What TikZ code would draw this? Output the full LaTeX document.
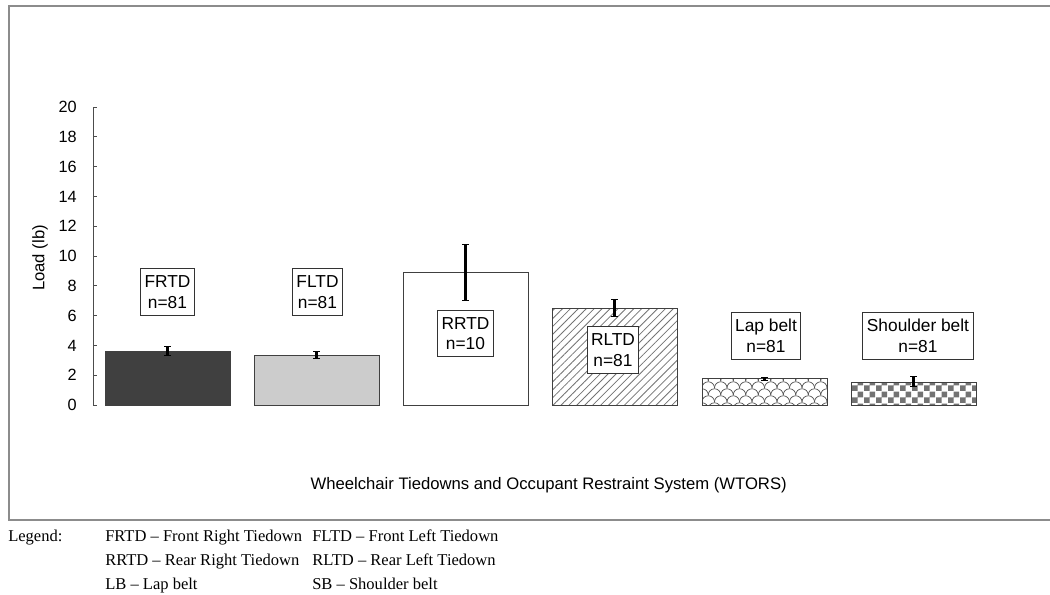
\documentclass[tikz,border=0pt]{standalone}
\usepackage{fontspec}
\setmainfont{Liberation Serif}
\newfontfamily\arialfont{Liberation Sans}
\usetikzlibrary{patterns,patterns.meta,arrows.meta}

\pgfdeclarepatternformonly{checks}{\pgfpointorigin}{\pgfqpoint{9pt}{9pt}}{\pgfqpoint{9pt}{9pt}}{%
  \pgfpathrectangle{\pgfpointorigin}{\pgfqpoint{4.5pt}{4.5pt}}%
  \pgfpathrectangle{\pgfqpoint{4.5pt}{4.5pt}}{\pgfqpoint{4.5pt}{4.5pt}}%
  \pgfusepath{fill}}

\definecolor{darkbar}{HTML}{404040}
\definecolor{lightbar}{HTML}{CCCCCC}
\definecolor{framegray}{HTML}{8C8C8C}

\begin{document}
\begin{tikzpicture}[x=0.75pt,y=-0.75pt,
    bar/.style={draw=black!75,line width=0.75pt},
    errbar/.style={line width=2.2pt,{Bar[width=5pt,line width=1pt]}-{Bar[width=5pt,line width=1pt]}},
    tag/.style={draw=black!80,line width=0.75pt,fill=white,align=center,
      font=\arialfont\fontsize{13}{15.5}\selectfont,inner xsep=3pt,inner ysep=1pt,minimum height=35pt},
    ticklabel/.style={anchor=east,inner sep=0pt,font=\arialfont\fontsize{12.2}{14}\selectfont},
    legend/.style={anchor=base west,inner sep=0pt,font=\fontsize{12.4}{15}\selectfont}]
  \useasboundingbox (0,0) rectangle (1050,594);
  \fill[white] (0,0) rectangle (1050,594);

  % frame
  \draw[framegray,line width=1.5pt] (1060,6) -- (9,6) -- (9,520) -- (1060,520);

  % axis
  \draw[black!70,line width=0.75pt] (93,107) -- (93,405);
  \foreach \v in {0,2,...,20} {
    \draw[black!70,line width=0.75pt] (93,405-14.9*\v) -- ++(4,0);
    \node[ticklabel] at (77,405-14.9*\v) {\v};
  }
  \node[rotate=90,font=\arialfont\fontsize{12.5}{14}\selectfont] (ylab) at (40,258) {Load (lb)};

  % bars
  \draw[bar,fill=darkbar] (105,351) rectangle (230,405);
  \draw[bar,fill=lightbar] (254,355) rectangle (379,405);
  \draw[bar,fill=white] (403,272) rectangle (528,405);
  \draw[bar,preaction={fill=white},pattern={Lines[angle=45,distance=4.2pt,line width=0.6pt]},
    pattern color=black!55] (552,308) rectangle (677,405);
  \begin{scope}
    \clip (702,378) rectangle (827,405);
    \foreach \r in {0,...,4}
      \foreach \k in {0,...,11}
        \draw[black!70,line width=0.5pt] ({702+12.5*\k+6.25*mod(\r,2)-6.25},{381+7*\r})
          arc[start angle=180,end angle=360,radius=6.25];
  \end{scope}
  \draw[bar] (702,378) rectangle (827,405);
  \draw[bar,preaction={fill=white},pattern=checks,pattern color=black!55] (851,382) rectangle (976,405);

  % error bars
  \draw[errbar] (167.5,346) -- (167.5,356);
  \draw[errbar] (316.5,351) -- (316.5,359);
  \draw[errbar] (465.5,244) -- (465.5,301);
  \draw[errbar] (614.5,299) -- (614.5,317);
  \draw[errbar] (764.5,377) -- (764.5,381);
  \draw[errbar] (913.5,376) -- (913.5,387);

  % labels
  \node[tag] (frtd) at (167.5,292) {FRTD\\n=81};
  \node[tag] (fltd) at (317.5,292) {FLTD\\n=81};
  \node[tag] (rrtd) at (465.5,333.5) {RRTD\\n=10};
  \node[tag] (rltd) at (613,350) {RLTD\\n=81};
  \node[tag] (lap) at (766,336) {Lap belt\\n=81};
  \node[tag] (sb) at (918,336) {Shoulder belt\\n=81};

  \node[anchor=east,inner sep=0pt,font=\arialfont\fontsize{12.5}{14}\selectfont] (xlab) at (787,485)
    {Wheelchair Tiedowns and Occupant Restraint System (WTORS)};

  % legend
  \node[legend] (lg) at (8,541) {Legend:};
  \node[legend] (lg1) at (105,541) {FRTD – Front Right Tiedown};
  \node[legend] (lg2) at (312,541) {FLTD – Front Left Tiedown};
  \node[legend] (lg3) at (105,565) {RRTD – Rear Right Tiedown};
  \node[legend] (lg4) at (312,565) {RLTD – Rear Left Tiedown};
  \node[legend] (lg5) at (105,589) {LB – Lap belt};
  \node[legend] (lg6) at (312,589) {SB – Shoulder belt};
\end{tikzpicture}
\end{document}
